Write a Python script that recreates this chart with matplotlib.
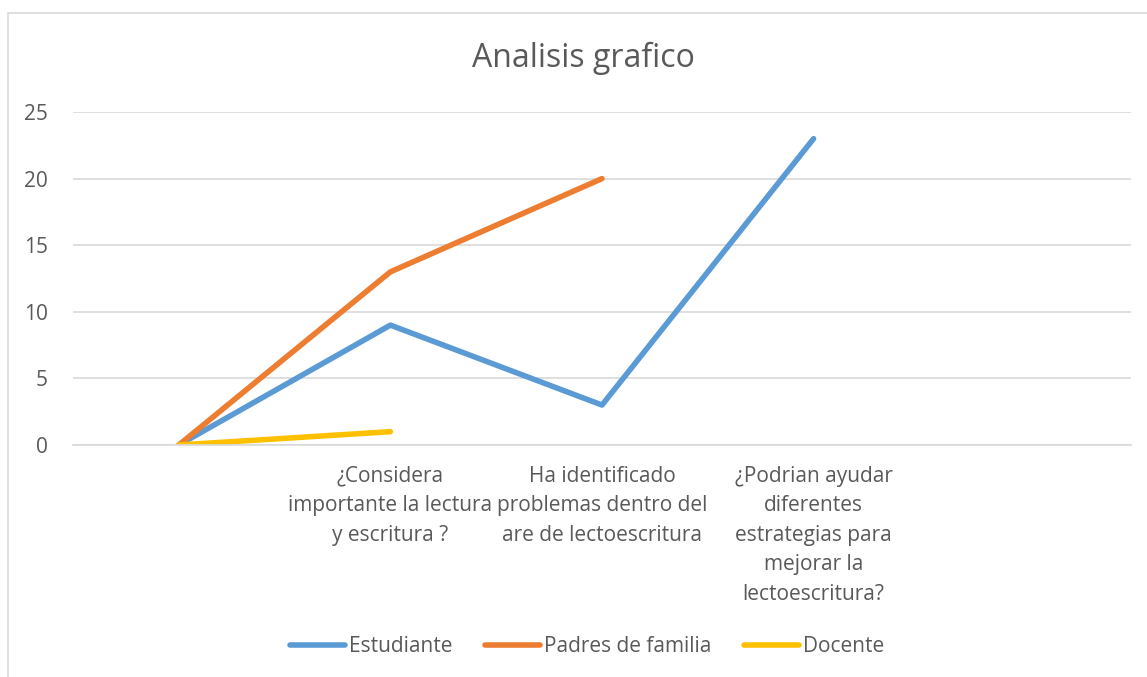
import matplotlib
matplotlib.use("Agg")
import matplotlib.pyplot as plt
from matplotlib.patches import Rectangle
import numpy as np

plt.rcParams['font.family'] = ['Open Sans', 'DejaVu Sans']

categories = ["",
              "¿Considera\nimportante la lectura\ny escritura ?",
              "Ha identificado\nproblemas dentro del\nare de lectoescritura",
              "¿Podrian ayudar\ndiferentes\nestrategias para\nmejorar la\nlectoescritura?",
              ""]
estudiante = [0, 9, 3, 23]
padres = [0, 13, 20]
docente = [0, 1]
series_names = ["Estudiante", "Padres de familia", "Docente"]
colors = ["#5B9BD5", "#ED7D31", "#FFC000"]
yticks = [0, 5, 10, 15, 20, 25]

W, H = 1147, 677
fig = plt.figure(figsize=(W / 100, H / 100), dpi=100)
fig.patch.set_facecolor("white")

# chart border
fig.patches.append(Rectangle((8 / W, -0.1), 1.2, 1 - 13 / H + 0.1, transform=fig.transFigure,
                             fill=False, edgecolor="#D9D9D9", linewidth=1.2))

left, right = 73 / W, 1131 / W
bottom, top = 1 - 445 / H, 1 - 112 / H
ax = fig.add_axes([left, bottom, right - left, top - bottom])

x = np.arange(len(categories))
for vals, name, c in zip([estudiante, padres, docente], series_names, colors):
    ax.plot(x[:len(vals)], vals, color=c, linewidth=4.0, label=name,
            solid_capstyle="round", solid_joinstyle="round")

ax.set_xlim(-0.5, len(categories) - 0.5)
ax.set_ylim(0, 25)
ax.set_yticks(yticks)
ax.set_xticks(x)
ax.set_xticklabels(categories, linespacing=1.53)
ax.tick_params(axis="both", length=0, labelsize=15, labelcolor="#595959")
ax.tick_params(axis="x", pad=15)
ax.tick_params(axis="y", pad=18)
ax.grid(axis="y", color="#D9D9D9", linewidth=1.2)
ax.set_axisbelow(True)
for s in ["top", "right", "left"]:
    ax.spines[s].set_visible(False)
ax.spines["bottom"].set_color("#D9D9D9")
ax.spines["bottom"].set_linewidth(1.2)

fig.text(583 / W, 1 - 58 / H, "Analisis grafico", ha="center", va="center",
         fontsize=23, color="#595959")

leg = fig.legend(loc="center", bbox_to_anchor=(587 / W, 1 - 647 / H), ncol=3, frameon=False,
                 fontsize=15, handlelength=2.65, handletextpad=0.2, columnspacing=1.55)
for t in leg.get_texts():
    t.set_color("#595959")

fig.savefig("out.png", dpi=100)
